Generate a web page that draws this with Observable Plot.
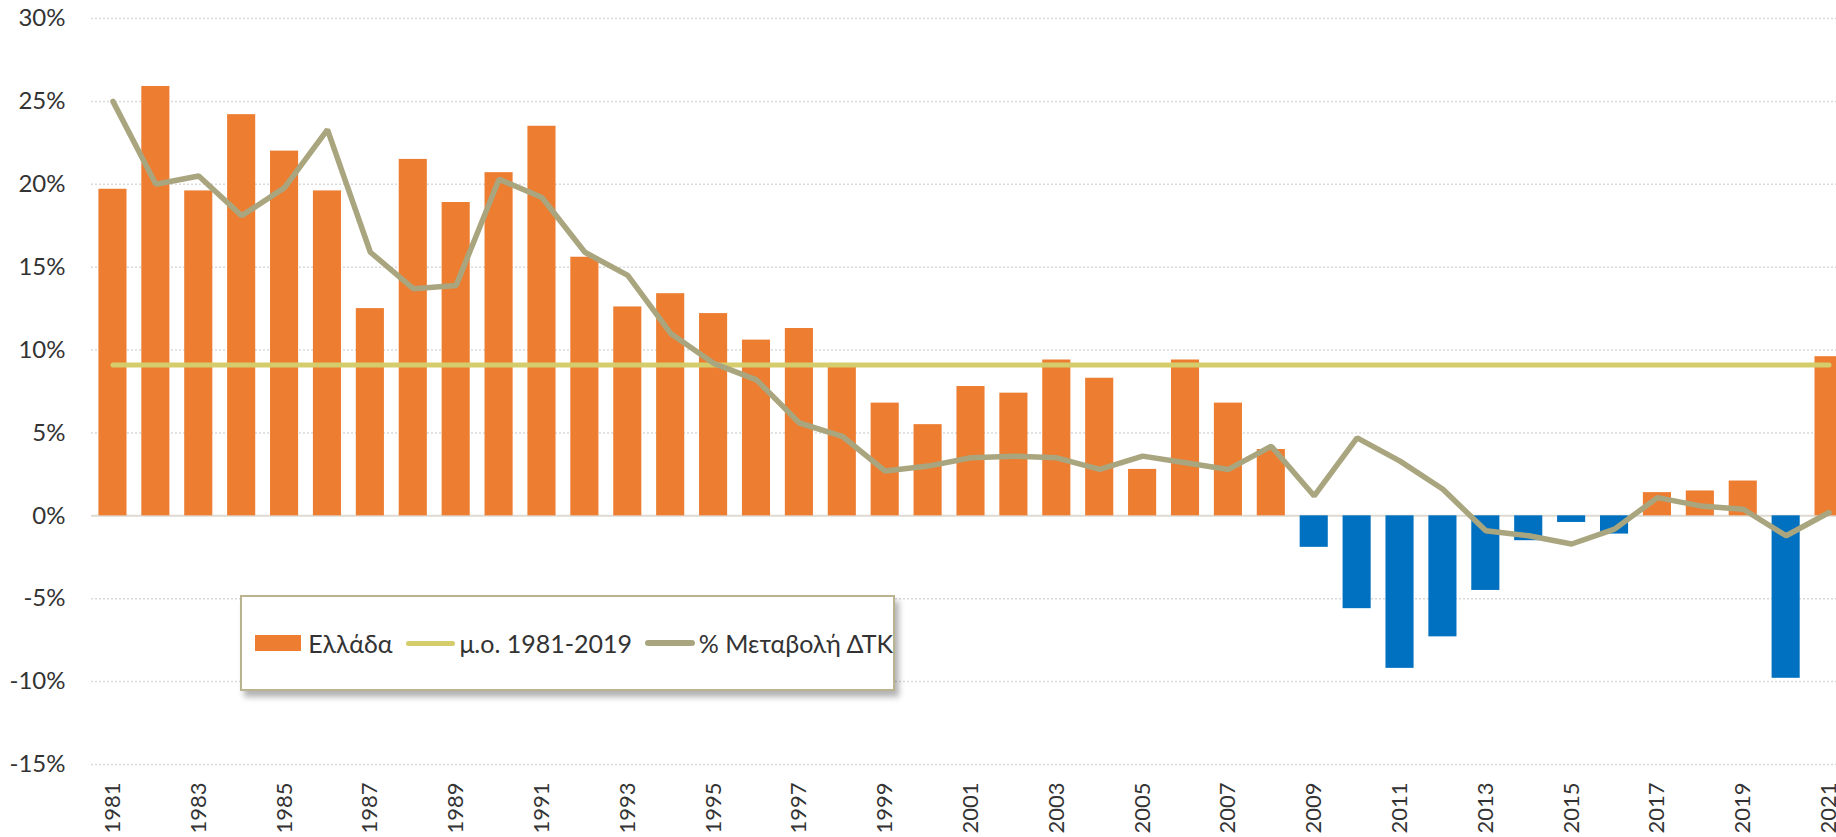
<!DOCTYPE html>
<html><head><meta charset="utf-8">
<script src="https://cdn.jsdelivr.net/npm/d3@7"></script>
<script src="https://cdn.jsdelivr.net/npm/@observablehq/plot@0.6"></script>
<style>
html,body{margin:0;padding:0;background:#fff;overflow:hidden}
#wrap{position:relative;width:1836px;height:837px;font-family:Lato,"Open Sans",sans-serif;overflow:hidden}
#legend{position:absolute;left:240px;top:595px;width:651px;height:92px;border:2px solid #b9b48f;background:#fff;box-shadow:4px 6px 6px rgba(0,0,0,0.3);font-size:25px;color:#333;display:flex;align-items:center;padding-left:13px;box-sizing:content-box;white-space:nowrap}
#legend .sw{display:inline-block;width:51px;height:16px;background:#ED7D31;margin-right:7px}
#legend .ln{display:inline-block;width:55px;height:5px;border-radius:3px;margin-left:13px;margin-right:4px}
</style></head>
<body><div id="wrap"></div>
<script>
const years = [1981,1982,1983,1984,1985,1986,1987,1988,1989,1990,1991,1992,1993,1994,1995,1996,1997,1998,1999,2000,2001,2002,2003,2004,2005,2006,2007,2008,2009,2010,2011,2012,2013,2014,2015,2016,2017,2018,2019,2020,2021];
const greece = [19.7,25.9,19.6,24.2,22.0,19.6,12.5,21.5,18.9,20.7,
                23.5,15.6,12.6,13.4,12.2,10.6,11.3,9.0,6.8,5.5,
                7.8,7.4,9.4,8.3,2.8,9.4,6.8,4.0,-1.9,-5.6,
                -9.2,-7.3,-4.5,-1.5,-0.4,-1.1,1.4,1.5,2.1,-9.8,
                9.6];
const cpiChange = [25.0,20.0,20.5,18.1,19.8,23.3,15.9,13.7,13.9,20.3,
                   19.2,15.9,14.5,11.0,9.2,8.2,5.6,4.8,2.7,3.0,
                   3.5,3.6,3.5,2.8,3.6,3.2,2.8,4.2,1.2,4.7,
                   3.3,1.6,-0.9,-1.2,-1.7,-0.8,1.1,0.6,0.4,-1.2,
                   0.2];
const meanValue = 9.1;
const yTicks = [-15,-10,-5,0,5,10,15,20,25,30];
const xTickYears = [1981,1983,1985,1987,1989,1991,1993,1995,1997,1999,2001,2003,2005,2007,2009,2011,2013,2015,2017,2019,2021];
const seriesNames = ["Ελλάδα","μ.ο. 1981-2019","% Μεταβολή ΔΤΚ"];

const rows = years.map((y,i)=>({year:y, value:greece[i], cpi:cpiChange[i], mean:meanValue}));

const chart = Plot.plot({
  width:1836, height:837,
  marginTop:18, marginBottom:73, marginLeft:91, marginRight:-14,
  style:{fontFamily:"Lato, 'Open Sans', sans-serif", fontSize:"22px", color:"#333", background:"#fff", overflow:"hidden", maxWidth:"none"},
  x:{type:"band", domain:years, paddingInner:0.345, paddingOuter:0.1725, axis:null},
  y:{domain:[-15,30], axis:null},
  color:{type:"identity"},
  marks:[
    Plot.ruleY(yTicks.filter(t=>t!==0), {stroke:"#d9d9d9", strokeWidth:1.5, strokeDasharray:"2,2"}),
    Plot.ruleY([0], {stroke:"#dedad2", strokeWidth:2}),
    Plot.barY(rows, {x:"year", y:"value", fill:d=>d.value>=0?"#ED7D31":"#0070C0"}),
    Plot.lineY(rows, {x:"year", y:"mean", stroke:"#D5CD6C", strokeWidth:5, strokeLinecap:"round"}),
    Plot.lineY(rows, {x:"year", y:"cpi", stroke:"#A9A57E", strokeWidth:5.5, strokeLinejoin:"miter"}),
    Plot.axisY({ticks:yTicks, tickFormat:d=>d+"%", tickSize:0, tickPadding:26, fontSize:24, label:null}),
    Plot.axisX({ticks:xTickYears, tickFormat:d=>String(d), tickRotate:-90, tickSize:0, tickPadding:18, fontSize:22, label:null})
  ]
});
const wrap = document.getElementById("wrap");
wrap.appendChild(chart);

const legend = document.createElement("div");
legend.id = "legend";
legend.style.width = "638px";
legend.innerHTML =
  `<span class="sw"></span><span>${seriesNames[0]}</span>`+
  `<span class="ln" style="background:#D5CD6C"></span><span>${seriesNames[1]}</span>`+
  `<span class="ln" style="background:#A9A57E;height:6px"></span><span>${seriesNames[2]}</span>`;
wrap.appendChild(legend);
</script>
</body></html>
